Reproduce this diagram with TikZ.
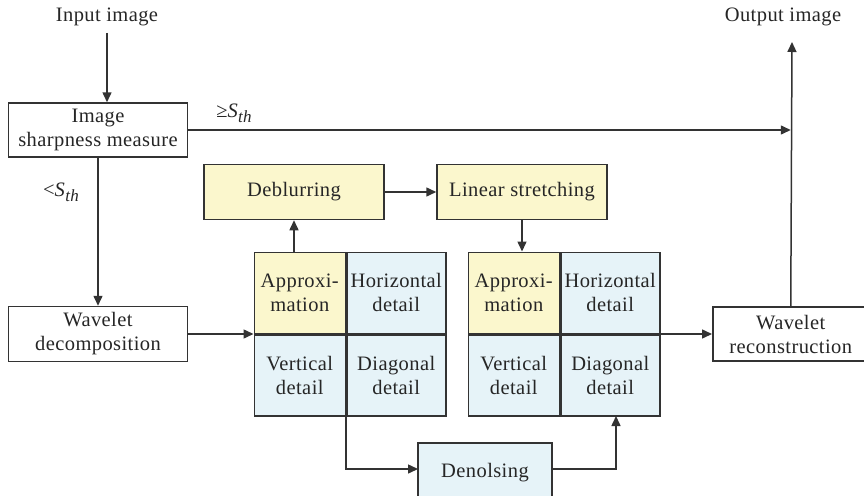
\documentclass[tikz,border=0pt]{standalone}
\usepackage{fontspec}
\setmainfont{Liberation Serif}[LetterSpace=2]
\usetikzlibrary{arrows.meta}
\definecolor{yel}{HTML}{FBF7CD}
\definecolor{blu}{HTML}{E6F3F8}
\definecolor{ln}{HTML}{333333}
\newcommand{\Sth}{\textit{S}\raisebox{-5pt}{\fontsize{17}{17}\selectfont\itshape th}}
\tikzset{
  txt/.style={font=\fontsize{20.5}{24}\selectfont, align=center, inner sep=0pt, text=black!85},
  box/.style={txt, draw=ln, line width=1.5pt, fill=white},
  cell/.style={txt, draw=ln, line width=1.5pt, minimum width=#1, minimum height=81pt},
  arr/.style={draw=ln, line width=1.5pt, -{Triangle[length=10pt,width=9pt]}}
}
\begin{document}
\begin{tikzpicture}[x=1pt,y=-1pt]
\clip (0,0) rectangle (864,495);
\fill[white] (0,0) rectangle (864,495);
% text nodes
\node[txt] (input) at (107,17) {Input image};
\node[txt] (output) at (783,17) {Output image};
\coordinate (outtip) at (792,42);
\node[txt] (ge) at (234,113) {≥\Sth};
\node[txt] (lt) at (61,192) {<\Sth};
% boxes
\node[box, minimum width=179pt, minimum height=54pt] (sharp) at (98,130) {Image\\sharpness measure};
\node[box, minimum width=179pt, minimum height=55pt] (dec) at (98,334) {Wavelet\\decomposition};
\node[box, minimum width=156pt, minimum height=54pt, anchor=west] (rec) at (712,334) {Wavelet\\reconstruction};
\node[box, fill=yel, minimum width=180pt, minimum height=55pt] (deblur) at (294,192) {Deblurring};
\node[box, fill=yel, minimum width=170pt, minimum height=55pt] (lin) at (522,192) {Linear stretching};
\node[box, fill=blu, minimum width=134pt, minimum height=60pt, anchor=north] (den) at (485,442) {Denolsing};
% grid 1
\node[cell=91pt, fill=yel, anchor=south east] (a1) at (346,334) {Approxi-\\mation};
\node[cell=99pt, fill=blu, anchor=south west] (h1) at (346,334) {Horizontal\\detail};
\node[cell=91pt, fill=blu, anchor=north east] (v1) at (346,334) {Vertical\\detail};
\node[cell=99pt, fill=blu, anchor=north west] (d1) at (346,334) {Diagonal\\detail};
% grid 2
\node[cell=91pt, fill=yel, anchor=south east] (a2) at (560,334) {Approxi-\\mation};
\node[cell=99pt, fill=blu, anchor=south west] (h2) at (560,334) {Horizontal\\detail};
\node[cell=91pt, fill=blu, anchor=north east] (v2) at (560,334) {Vertical\\detail};
\node[cell=99pt, fill=blu, anchor=north west] (d2) at (560,334) {Diagonal\\detail};
% connectors
\coordinate (instart) at (107,33);
\draw[arr] (instart) -- (instart |- sharp.north);
\draw[arr] (sharp.east) -- (sharp.east -| rec.north);
\draw[arr] (rec.north) -- (outtip);
\draw[arr] (sharp.south) -- (dec.north);
\draw[arr] (dec.east) -- (dec.east -| a1.west);
\draw[arr] (a1.north -| deblur.south) -- (deblur.south);
\draw[arr] (deblur.east) -- (lin.west);
\draw[arr] (lin.south) -- (lin.south |- a2.north);
\coordinate (denin) at (418,469);
\draw[arr] (v1.south east) |- (denin);
\coordinate (d2in) at (616,416);
\coordinate (denout) at (552,469);
\draw[arr] (denout) -| (d2in);
\draw[arr] (h2.south east) -- (h2.south east -| rec.west);
\end{tikzpicture}
\end{document}
